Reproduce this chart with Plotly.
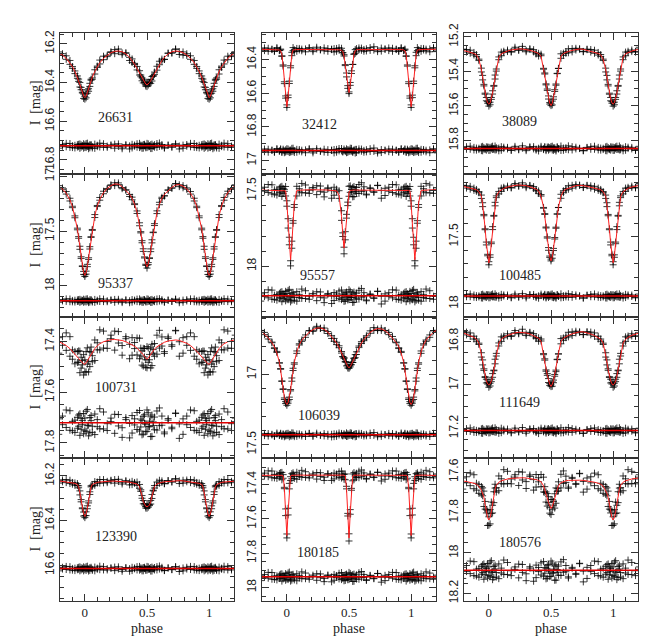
import plotly.graph_objects as go

# orbital phase grid (0..1), folded light curves are read at these phases
phase = [
    0.00, 0.01, 0.02, 0.03, 0.04, 0.05, 0.06,
    0.08, 0.10, 0.12,
    0.15, 0.18, 0.21, 0.24, 0.27, 0.30, 0.33, 0.36,
    0.38, 0.40, 0.42, 0.44,
    0.45, 0.46, 0.47, 0.48, 0.49, 0.50, 0.51, 0.52, 0.53, 0.54, 0.55,
    0.56, 0.58, 0.60, 0.62,
    0.64, 0.67, 0.70, 0.73, 0.76, 0.79, 0.82, 0.85,
    0.88, 0.90, 0.92, 0.94,
    0.95, 0.96, 0.97, 0.98, 0.99,
]

stars = ["26631", "32412", "38089", "95337", "95557", "100485",
         "100731", "106039", "111649", "123390", "180185", "180576"]

# model light curves (I mag) at the phases above
model_26631 = [
    16.478, 16.470, 16.452, 16.430, 16.410, 16.390, 16.372,
    16.343, 16.318, 16.298,
    16.275, 16.258, 16.246, 16.239, 16.237, 16.241, 16.252, 16.270,
    16.286, 16.305, 16.328, 16.352,
    16.365, 16.378, 16.390, 16.400, 16.408, 16.412, 16.408, 16.400, 16.390, 16.378, 16.365,
    16.352, 16.328, 16.305, 16.286,
    16.270, 16.252, 16.241, 16.237, 16.239, 16.246, 16.258, 16.275,
    16.298, 16.318, 16.343, 16.372,
    16.390, 16.410, 16.430, 16.452, 16.470,
]
model_32412 = [
    16.680, 16.620, 16.530, 16.440, 16.370, 16.343, 16.341,
    16.341, 16.340, 16.340,
    16.341, 16.340, 16.339, 16.338, 16.338, 16.339, 16.340, 16.341,
    16.341, 16.341, 16.342, 16.345,
    16.352, 16.380, 16.430, 16.490, 16.560, 16.596, 16.550, 16.480, 16.420, 16.370, 16.348,
    16.342, 16.341, 16.341, 16.341,
    16.341, 16.340, 16.339, 16.338, 16.338, 16.339, 16.340, 16.341,
    16.341, 16.341, 16.341, 16.343,
    16.348, 16.370, 16.440, 16.530, 16.620,
]
model_38089 = [
    15.589, 15.582, 15.560, 15.525, 15.480, 15.435, 15.390,
    15.318, 15.298, 15.290,
    15.282, 15.276, 15.272, 15.270, 15.270, 15.273, 15.278, 15.284,
    15.289, 15.296, 15.312, 15.380,
    15.420, 15.465, 15.510, 15.550, 15.585, 15.598, 15.585, 15.550, 15.510, 15.465, 15.420,
    15.380, 15.312, 15.296, 15.289,
    15.284, 15.278, 15.273, 15.270, 15.272, 15.277, 15.283, 15.290,
    15.296, 15.304, 15.330, 15.390,
    15.435, 15.480, 15.525, 15.560, 15.582,
]
model_95337 = [
    17.904, 17.880, 17.820, 17.740, 17.650, 17.560, 17.480,
    17.360, 17.270, 17.210,
    17.150, 17.110, 17.085, 17.070, 17.072, 17.095, 17.130, 17.165,
    17.200, 17.255, 17.330, 17.440,
    17.510, 17.590, 17.670, 17.745, 17.800, 17.826, 17.800, 17.745, 17.670, 17.590, 17.510,
    17.440, 17.330, 17.255, 17.200,
    17.165, 17.130, 17.100, 17.080, 17.075, 17.090, 17.115, 17.155,
    17.215, 17.275, 17.365, 17.480,
    17.560, 17.650, 17.740, 17.820, 17.880,
]
model_95557 = [
    17.580, 17.720, 17.850, 17.957, 17.850, 17.720, 17.580,
    17.497, 17.495, 17.495,
    17.494, 17.493, 17.492, 17.492, 17.493, 17.494, 17.495, 17.497,
    17.497, 17.500, 17.530, 17.670,
    17.790, 17.880, 17.790, 17.680, 17.570, 17.510, 17.497, 17.495, 17.495, 17.495, 17.495,
    17.495, 17.494, 17.494, 17.493,
    17.493, 17.492, 17.492, 17.493, 17.494, 17.495, 17.496, 17.497,
    17.497, 17.497, 17.498, 17.497,
    17.497, 17.497, 17.497, 17.497, 17.500,
]
model_100485 = [
    17.695, 17.640, 17.550, 17.440, 17.340, 17.260, 17.200,
    17.165, 17.150, 17.140,
    17.130, 17.123, 17.118, 17.115, 17.116, 17.120, 17.128, 17.138,
    17.146, 17.160, 17.200, 17.280,
    17.340, 17.420, 17.510, 17.590, 17.650, 17.680, 17.650, 17.590, 17.510, 17.420, 17.340,
    17.280, 17.200, 17.160, 17.146,
    17.138, 17.128, 17.120, 17.117, 17.118, 17.124, 17.132, 17.140,
    17.145, 17.150, 17.165, 17.200,
    17.260, 17.340, 17.440, 17.550, 17.640,
]
model_100731 = [
    17.490, 17.485, 17.477, 17.468, 17.459, 17.450, 17.442,
    17.428, 17.417, 17.409,
    17.401, 17.396, 17.393, 17.392, 17.393, 17.396, 17.401, 17.408,
    17.413, 17.419, 17.426, 17.435,
    17.440, 17.445, 17.452, 17.459, 17.466, 17.470, 17.465, 17.457, 17.449, 17.441, 17.435,
    17.430, 17.421, 17.414, 17.408,
    17.403, 17.398, 17.395, 17.394, 17.396, 17.400, 17.407, 17.416,
    17.428, 17.438, 17.449, 17.461,
    17.467, 17.473, 17.479, 17.484, 17.488,
]
model_106039 = [
    17.214, 17.200, 17.165, 17.110, 17.040, 16.970, 16.915,
    16.840, 16.790, 16.757,
    16.725, 16.700, 16.683, 16.671, 16.670, 16.680, 16.700, 16.730,
    16.752, 16.778, 16.810, 16.848,
    16.868, 16.888, 16.908, 16.928, 16.945, 16.953, 16.945, 16.928, 16.908, 16.888, 16.868,
    16.848, 16.810, 16.778, 16.752,
    16.730, 16.703, 16.684, 16.675, 16.677, 16.690, 16.712, 16.740,
    16.775, 16.805, 16.850, 16.915,
    16.970, 17.040, 17.110, 17.165, 17.200,
]
model_111649 = [
    17.000, 16.995, 16.982, 16.960, 16.930, 16.895, 16.860,
    16.808, 16.790, 16.781,
    16.772, 16.766, 16.761, 16.758, 16.758, 16.761, 16.766, 16.773,
    16.778, 16.785, 16.800, 16.855,
    16.890, 16.925, 16.955, 16.980, 16.998, 17.007, 16.998, 16.980, 16.955, 16.925, 16.890,
    16.855, 16.800, 16.785, 16.778,
    16.772, 16.765, 16.759, 16.756, 16.756, 16.760, 16.766, 16.773,
    16.781, 16.790, 16.808, 16.860,
    16.895, 16.930, 16.960, 16.982, 16.995,
]
model_123390 = [
    16.382, 16.370, 16.345, 16.310, 16.275, 16.250, 16.238,
    16.232, 16.229, 16.227,
    16.225, 16.224, 16.223, 16.223, 16.223, 16.224, 16.226, 16.228,
    16.230, 16.232, 16.236, 16.248,
    16.265, 16.290, 16.315, 16.330, 16.336, 16.338, 16.336, 16.330, 16.315, 16.290, 16.265,
    16.248, 16.236, 16.231, 16.228,
    16.226, 16.224, 16.222, 16.221, 16.221, 16.222, 16.224, 16.226,
    16.228, 16.230, 16.233, 16.238,
    16.250, 16.275, 16.310, 16.345, 16.370,
]
model_180185 = [
    17.697, 17.560, 17.420, 17.350, 17.346, 17.345, 17.345,
    17.345, 17.345, 17.345,
    17.346, 17.346, 17.347, 17.347, 17.347, 17.347, 17.346, 17.346,
    17.346, 17.345, 17.345, 17.345,
    17.345, 17.345, 17.350, 17.425, 17.565, 17.712, 17.565, 17.425, 17.350, 17.345, 17.345,
    17.345, 17.345, 17.345, 17.345,
    17.346, 17.346, 17.347, 17.347, 17.347, 17.346, 17.346, 17.345,
    17.345, 17.345, 17.345, 17.345,
    17.345, 17.346, 17.350, 17.420, 17.560,
]
model_180576 = [
    17.837, 17.825, 17.795, 17.755, 17.715, 17.685, 17.665,
    17.650, 17.643, 17.638,
    17.634, 17.631, 17.629, 17.628, 17.628, 17.629, 17.631, 17.634,
    17.637, 17.641, 17.648, 17.668,
    17.685, 17.705, 17.728, 17.750, 17.771, 17.780, 17.771, 17.750, 17.728, 17.705, 17.685,
    17.668, 17.652, 17.646, 17.643,
    17.641, 17.640, 17.640, 17.640, 17.641, 17.643, 17.646, 17.650,
    17.655, 17.660, 17.670, 17.690,
    17.705, 17.725, 17.760, 17.795, 17.825,
]

# observed minus model, mmag, two observing seasons per star
oc_a_26631 = [8, -12, 3, 15, -6, -2, 11, -9, 4, -14, 7, 1, -5, 12, -10, 6, -3, 16,
              -8, 2, -11, 9, -4, 13, -7, 0, 10, -13, 5, -1, 14, -9, 3, -6, 8, -15,
              2, 11, -4, 7, -10, 1, 12, -7, 5, -12, 9, -3, 6, -8, 13, -5, 2, -11]
oc_b_26631 = [-5, 9, -14, 2, 10, -7, 4, 13, -3, 6, -11, 8, -1, -9, 3, 15, -6, 0,
              11, -4, 7, -13, 5, -2, 12, -8, 1, 9, -10, 4, -6, 14, -1, 7, -12, 3,
              -7, 10, -3, 5, -9, 16, -4, 2, -13, 8, -1, 11, -6, 4, -10, 7, -2, 12]
oc_a_32412 = [4, -9, 12, -3, 7, -14, 1, 10, -6, -2, 13, -8, 5, -11, 3, 9, -5, 0,
              14, -7, 2, -12, 8, -1, 6, -10, 11, -4, 3, -13, 9, -2, 15, -7, 1, -9,
              10, -5, 6, -15, 4, 12, -3, 7, -8, 0, 11, -6, 2, -10, 8, -1, 13, -4]
oc_b_32412 = [-11, 6, -2, 9, -13, 4, 12, -7, 3, 8, -4, -10, 14, -1, 5, -8, 11, -3,
              -6, 10, -12, 2, 7, -9, 0, 13, -5, 6, -14, 3, 9, -2, -7, 12, -10, 4,
              -1, 8, -11, 5, 15, -6, 1, -9, 10, -3, 7, -12, 4, -5, 11, -8, 2, 9]
oc_a_38089 = [-7, 11, 2, -13, 6, 9, -4, 14, -10, 1, -6, 12, -2, 8, -15, 5, -9, 3,
              10, -1, -12, 7, -5, 13, 0, -8, 4, -11, 9, -3, 6, 15, -7, 2, -14, 11,
              -4, 8, -10, 3, -1, 12, -6, 5, -13, 9, -2, 7, -9, 14, -5, 1, 10, -8]
oc_b_38089 = [12, -4, -9, 6, 1, -14, 8, -2, 11, -7, 3, 9, -12, 5, -1, 13, -6, -10,
              4, 15, -3, 2, -11, 7, -8, 10, -5, 0, -13, 11, -4, 8, -9, 3, 12, -2,
              6, -15, 9, -7, 1, 14, -3, -10, 5, -6, 10, -1, 13, -12, 4, 7, -9, 2]
oc_a_95337 = [10, -15, 4, 18, -8, -3, 13, -11, 6, -17, 9, 1, -7, 15, -12, 7, -4, 19,
              -10, 3, -14, 11, -5, 16, -9, 0, 12, -16, 6, -2, 17, -11, 4, -8, 10, -18,
              3, 14, -5, 8, -13, 2, 15, -9, 7, -15, 11, -4, 8, -10, 16, -6, 3, -13]
oc_b_95337 = [-6, 12, -17, 3, 13, -9, 5, 16, -4, 8, -14, 10, -2, -11, 4, 18, -7, 1,
              14, -5, 9, -16, 6, -3, 15, -10, 2, 11, -13, 5, -8, 17, -1, 9, -15, 4,
              -9, 12, -4, 6, -12, 19, -5, 3, -16, 10, -2, 13, -7, 5, -12, 9, -3, 15]
oc_a_95557 = [22, -35, 8, 41, -16, -5, 30, -27, 12, -44, 19, 3, -14, 33, -25, 15, -9, 52,
              -21, 6, -31, 26, -11, 38, -19, 1, 28, -40, 13, -4, 45, -24, 9, -17, 23, -48,
              7, 34, -12, 18, -30, 4, 36, -20, 14, -37, 25, -8, 17, -23, 40, -13, 6, -29]
oc_b_95557 = [-14, 27, -42, 7, 31, -22, 11, 37, -9, 18, -33, 24, -3, -26, 10, 46, -15, 2,
              32, -11, 20, -38, 13, -6, 35, -24, 5, 26, -30, 12, -18, 43, -2, 21, -36, 9,
              -20, 29, -8, 14, -28, 55, -12, 6, -39, 23, -4, 30, -16, 11, -27, 20, -7, 34]
oc_a_100485 = [-9, 13, 2, -15, 7, 10, -4, 16, -12, 1, -7, 14, -2, 9, -17, 5, -10, 3,
               12, -1, -14, 8, -6, 15, 0, -9, 4, -13, 10, -3, 7, 17, -8, 2, -16, 12,
               -5, 9, -11, 3, -1, 14, -7, 6, -15, 10, -2, 8, -10, 16, -6, 1, 11, -9]
oc_b_100485 = [14, -5, -10, 7, 1, -16, 9, -2, 12, -8, 4, 10, -14, 6, -1, 15, -7, -11,
               5, 17, -3, 2, -12, 8, -9, 11, -6, 0, -15, 13, -4, 9, -10, 3, 14, -2,
               7, -17, 10, -8, 1, 16, -3, -11, 6, -7, 12, -1, 15, -13, 4, 8, -10, 2]
oc_a_100731 = [30, -45, 12, 52, -20, -8, 38, -34, 16, -55, 25, 4, -18, 42, -32, 20, -12, 60,
               -28, 9, -40, 33, -14, 48, -25, 2, 36, -50, 17, -6, 55, -30, 11, -22, 29, -58,
               10, 44, -16, 24, -38, 5, 46, -26, 19, -47, 32, -10, 22, -30, 50, -17, 8, -36]
oc_b_100731 = [-18, 35, -52, 10, 40, -28, 14, 47, -12, 24, -42, 31, -4, -33, 13, 58, -20, 3,
               41, -15, 27, -48, 17, -8, 45, -31, 6, 34, -39, 15, -23, 54, -3, 28, -46, 12,
               -26, 37, -10, 18, -36, 62, -15, 8, -50, 30, -5, 39, -21, 14, -35, 26, -9, 44]
oc_a_106039 = [6, -11, 14, -2, 9, -13, 3, 11, -7, -1, 12, -9, 4, -12, 2, 8, -4, 15,
               13, -6, 1, -10, 7, 0, 5, -14, 10, -5, 2, -12, 8, -3, 14, -8, 0, -10,
               9, -4, 5, -16, 3, 11, -2, 6, -9, 1, 12, -5, 3, -11, 7, -2, 14, -6]
oc_b_106039 = [-10, 5, -3, 8, -14, 3, 13, -6, 2, 9, -5, -11, 12, -2, 4, -9, 10, -4,
               -7, 11, -13, 1, 6, -8, 1, 12, -6, 5, -15, 4, 8, -1, -8, 11, -11, 3,
               -2, 7, -12, 4, 14, -5, 0, -10, 9, -4, 6, -13, 5, -6, 10, -7, 3, 8]
oc_a_111649 = [-8, 10, 3, -12, 5, 8, -5, 13, -11, 2, -7, 11, -1, 7, -14, 4, -8, 2,
               9, -2, -11, 6, -4, 12, 1, -9, 5, -10, 8, -2, 5, 14, -6, 3, -13, 10,
               -3, 7, -9, 2, 0, 12, -5, 4, -12, 8, -1, 6, -8, 13, -4, 2, 9, -7]
oc_b_111649 = [11, -3, -8, 5, 2, -13, 7, -1, 10, -6, 3, 8, -11, 4, 0, 12, -5, -9,
               4, 14, -2, 1, -10, 6, -7, 9, -4, 1, -12, 10, -3, 7, -8, 2, 11, -1,
               5, -14, 8, -6, 2, 13, -2, -9, 4, -5, 9, 0, 12, -10, 3, 6, -8, 1]
oc_a_123390 = [5, -9, 2, 11, -4, -1, 8, -7, 3, -11, 6, 0, -4, 9, -8, 4, -2, 12,
               -6, 1, -9, 7, -3, 10, -5, 0, 8, -10, 4, -1, 11, -7, 2, -5, 6, -12,
               1, 9, -3, 5, -8, 1, 10, -6, 4, -9, 7, -2, 5, -6, 10, -4, 2, -8]
oc_b_123390 = [-4, 8, -11, 2, 8, -6, 3, 10, -2, 5, -9, 6, -1, -7, 2, 12, -5, 0,
               9, -3, 6, -10, 4, -2, 10, -6, 1, 7, -8, 3, -5, 11, -1, 6, -9, 2,
               -6, 8, -3, 4, -8, 13, -3, 2, -10, 6, -1, 9, -4, 3, -8, 6, -2, 10]
oc_a_180185 = [14, -22, 5, 26, -10, -3, 19, -17, 8, -28, 12, 2, -9, 21, -16, 10, -6, 30,
               -13, 4, -20, 17, -7, 24, -12, 0, 18, -25, 8, -3, 28, -15, 6, -11, 15, -30,
               4, 22, -8, 12, -19, 3, 23, -13, 9, -24, 16, -5, 11, -15, 26, -8, 4, -18]
oc_b_180185 = [-9, 17, -27, 4, 20, -14, 7, 24, -6, 12, -21, 15, -2, -17, 6, 29, -10, 1,
               21, -7, 13, -24, 9, -4, 22, -15, 3, 17, -19, 8, -12, 27, -1, 14, -23, 6,
               -13, 18, -5, 9, -18, 32, -8, 4, -25, 15, -3, 19, -10, 7, -17, 13, -4, 21]
oc_a_180576 = [26, -40, 10, 47, -18, -6, 34, -31, 14, -50, 22, 3, -16, 38, -28, 18, -10, 55,
               -25, 7, -36, 30, -13, 43, -22, 1, 32, -45, 15, -5, 50, -27, 10, -20, 26, -52,
               8, 39, -14, 21, -34, 5, 41, -23, 17, -42, 29, -9, 20, -27, 45, -15, 7, -33]
oc_b_180576 = [-16, 31, -47, 9, 36, -25, 12, 42, -10, 21, -38, 27, -4, -30, 11, 52, -17, 3,
               37, -13, 24, -43, 15, -7, 40, -28, 5, 30, -35, 13, -21, 49, -3, 25, -41, 10,
               -23, 33, -9, 16, -32, 58, -14, 7, -45, 27, -5, 35, -19, 12, -31, 23, -8, 39]

# level at which the O-C residuals are drawn in each panel
resid_level = [16.727, 16.940, 15.846, 18.134, 18.196, 17.941,
               17.720, 17.430, 17.210, 16.616, 17.937, 18.085]

models = [model_26631, model_32412, model_38089, model_95337, model_95557, model_100485,
          model_100731, model_106039, model_111649, model_123390, model_180185, model_180576]
oc_a = [oc_a_26631, oc_a_32412, oc_a_38089, oc_a_95337, oc_a_95557, oc_a_100485,
        oc_a_100731, oc_a_106039, oc_a_111649, oc_a_123390, oc_a_180185, oc_a_180576]
oc_b = [oc_b_26631, oc_b_32412, oc_b_38089, oc_b_95337, oc_b_95557, oc_b_100485,
        oc_b_100731, oc_b_106039, oc_b_111649, oc_b_123390, oc_b_180185, oc_b_180576]

# axis limits (faint, bright) and major tick step per panel
y_ranges = [(16.873, 16.142), (17.08, 16.24), (15.995, 15.175),
            (18.28, 16.98), (18.335, 17.389), (18.095, 17.034),
            (17.86, 17.302), (17.596, 16.59), (17.337, 16.686),
            (16.76, 16.12), (18.077, 17.246), (18.236, 17.531)]
y_dtick = [0.2, 0.2, 0.2, 0.5, 0.5, 0.5, 0.2, 0.5, 0.2, 0.2, 0.2, 0.2]
label_pos = [(0.32, 0.40), (0.33, 0.35), (0.32, 0.37),
             (0.32, 0.23), (0.32, 0.29), (0.32, 0.29),
             (0.32, 0.50), (0.33, 0.30), (0.32, 0.39),
             (0.32, 0.45), (0.32, 0.34), (0.32, 0.41)]

W, H = 667, 642
col_px = [(60, 234), (262, 436), (464, 638)]
row_px = [(24, 168), (168, 313), (313, 457), (457, 602)]

SERIF = "Liberation Serif, Times New Roman, serif"
SANS = "Liberation Sans, Arial, sans-serif"
AXC = "#333333"


def fold(ph, vals):
    # show the phased curve from -0.2 to 1.2 by repeating the ends
    xs, ys = [], []
    for p, v in zip(ph, vals):
        if p >= 0.78:
            xs.append(p - 1)
            ys.append(v)
    for p, v in zip(ph, vals):
        xs.append(p)
        ys.append(v)
    for p, v in zip(ph, vals):
        if p <= 0.22:
            xs.append(p + 1)
            ys.append(v)
    return xs, ys


fig = go.Figure()
layout = {}
shapes = []
annotations = []

for k in range(12):
    r, c = divmod(k, 3)
    n = "" if k == 0 else str(k + 1)
    xa, ya = "x" + n, "y" + n

    model = models[k]
    obs_a = [m + d / 1000 for m, d in zip(model, oc_a[k])]
    obs_b = [m + d / 1000 for m, d in zip(model, oc_b[k])]
    res_a = [resid_level[k] + d / 1000 for d in oc_a[k]]
    res_b = [resid_level[k] + d / 1000 for d in oc_b[k]]

    px_, oa = fold(phase, obs_a)
    _, ob = fold(phase, obs_b)
    _, ra = fold(phase, res_a)
    _, rb = fold(phase, res_b)
    _, mo = fold(phase, model)

    fig.add_trace(go.Scatter(
        x=px_ + px_ + px_ + px_, y=oa + ob + ra + rb, mode="markers",
        marker=dict(symbol="cross-thin", size=5,
                    line=dict(width=1, color="rgba(0,0,0,0.78)")),
        xaxis=xa, yaxis=ya, showlegend=False, hoverinfo="skip"))
    fig.add_trace(go.Scatter(
        x=px_, y=mo, mode="lines", line=dict(color="#ff2020", width=1),
        xaxis=xa, yaxis=ya, showlegend=False, hoverinfo="skip"))

    shapes.append(dict(type="line", xref=xa + " domain", x0=0, x1=1,
                       yref=ya, y0=resid_level[k], y1=resid_level[k],
                       line=dict(color="#e00000", width=1.5), layer="above"))

    x0, x1 = col_px[c]
    y0, y1 = row_px[r]
    bottom = r == 3
    layout["xaxis" + n] = dict(
        domain=[x0 / W, x1 / W], anchor=ya, range=[-0.2, 1.2],
        tick0=0, dtick=0.5, ticks="inside", ticklen=7, tickcolor=AXC,
        minor=dict(dtick=0.1, ticks="inside", ticklen=4, tickcolor=AXC),
        showline=True, linecolor=AXC, linewidth=1, mirror="allticks",
        showgrid=False, zeroline=False, showticklabels=bottom,
        tickfont=dict(family=SERIF, size=13, color="#222"))
    d = y_dtick[k]
    layout["yaxis" + n] = dict(
        domain=[1 - y1 / H, 1 - y0 / H], anchor=xa, range=list(y_ranges[k]),
        tick0=0, dtick=d, ticks="inside", ticklen=7, tickcolor=AXC,
        minor=dict(dtick=0.05 if d == 0.2 else 0.1, ticks="inside", ticklen=4, tickcolor=AXC),
        showline=True, linecolor=AXC, linewidth=1, mirror="allticks",
        showgrid=False, zeroline=False, tickangle=-90,
        tickfont=dict(family=SANS, size=12, color="#222"))

    lx, ly = label_pos[k]
    annotations.append(dict(text=stars[k], xref=xa + " domain", yref=ya + " domain",
                            x=lx, y=ly, showarrow=False, xanchor="center", yanchor="middle",
                            font=dict(family=SERIF, size=14, color="#222")))
    if c == 0:
        annotations.append(dict(text="I  [mag]", xref="paper", yref="paper",
                                x=35 / W, y=1 - (y0 + y1) / 2 / H, textangle=-90,
                                showarrow=False, xanchor="center", yanchor="middle",
                                font=dict(family=SERIF, size=14, color="#222")))
    if bottom:
        annotations.append(dict(text="phase", xref="paper", yref="paper",
                                x=(x0 + x1) / 2 / W, y=1 - 639 / H, borderpad=0,
                                showarrow=False, xanchor="center", yanchor="bottom",
                                font=dict(family=SERIF, size=14, color="#222")))

fig.update_layout(
    width=W, height=H, margin=dict(l=0, r=0, t=0, b=0),
    paper_bgcolor="white", plot_bgcolor="white", showlegend=False,
    shapes=shapes, annotations=annotations, **layout)

# drop the browser's default page margin so the figure sits at the window corner
fig.write_html("out.html", config={"displayModeBar": False},
               post_script="document.body.style.margin='0';"
               "document.documentElement.style.overflow='hidden';")
